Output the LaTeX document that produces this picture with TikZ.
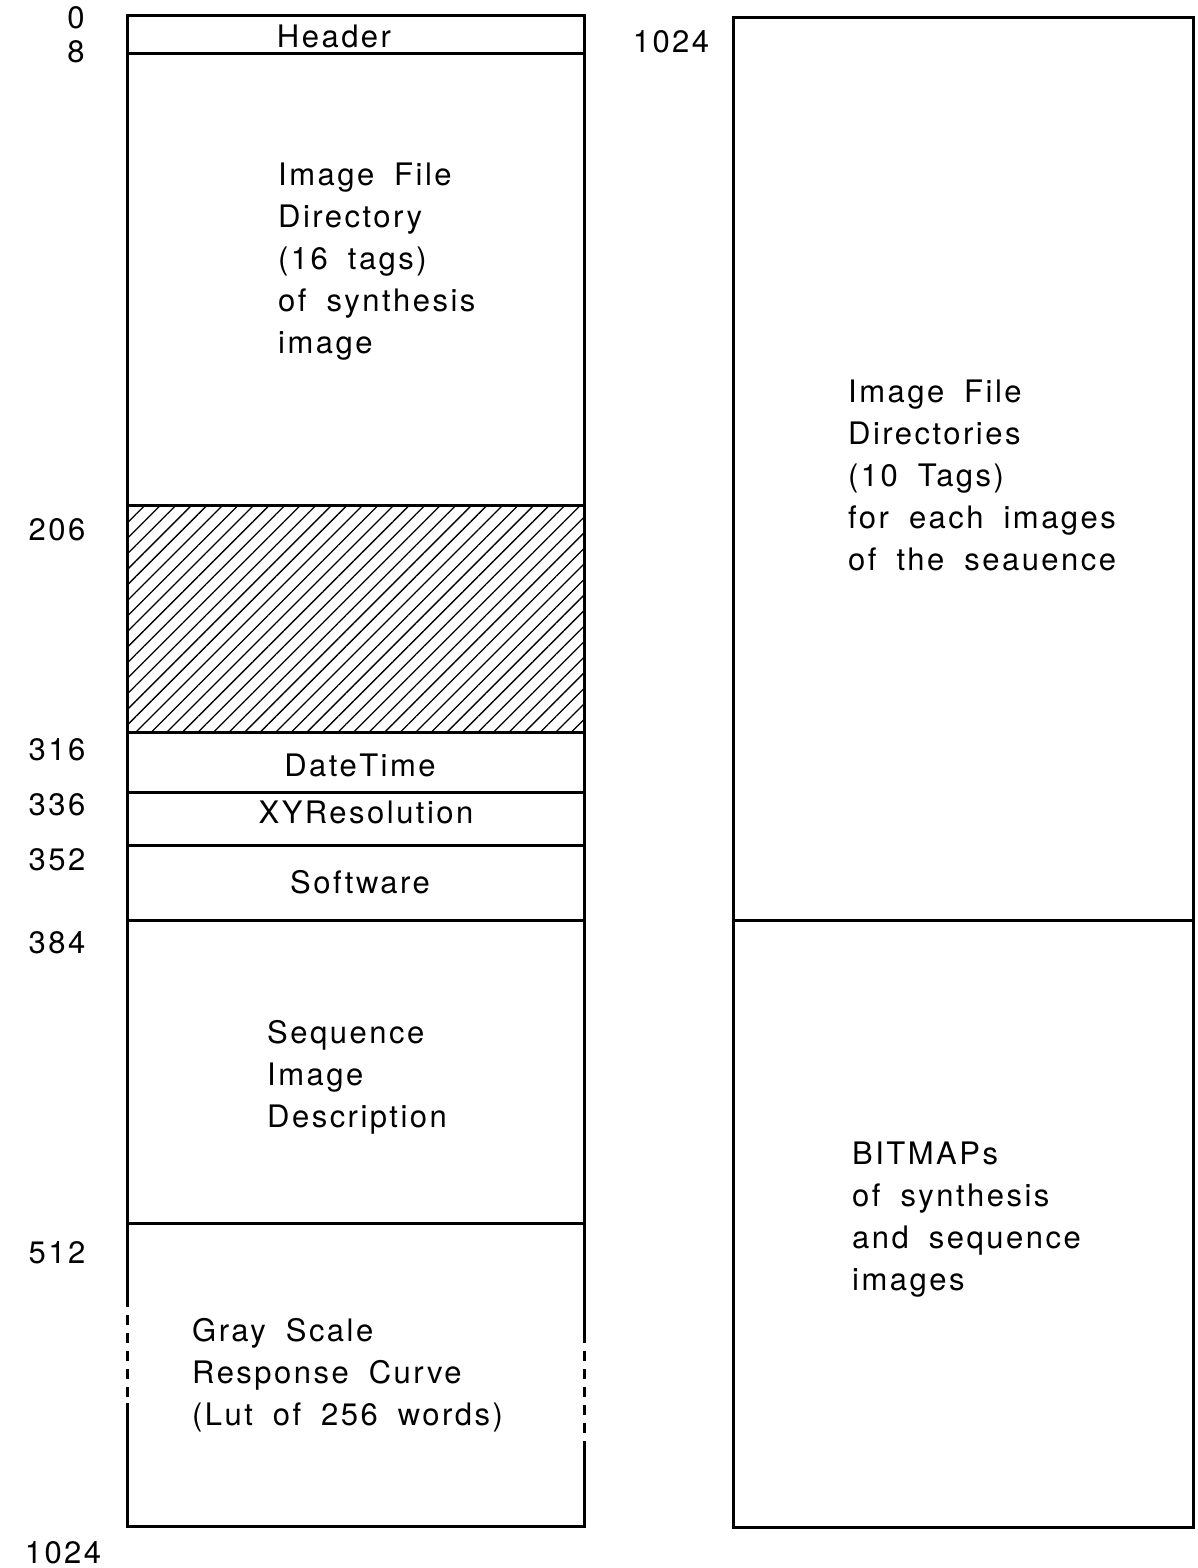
\documentclass[tikz,border=0pt]{standalone}
\usepackage{fontspec}
\setmainfont{TeX Gyre Heros}[LetterSpace=8,WordSpace=1.8]
\usetikzlibrary{positioning, patterns.meta}

\begin{document}
\begin{tikzpicture}[
    x=1pt, y=-1pt,
    field/.style={
        rectangle, draw, line width=3pt,
        anchor=north west, outer sep=0pt, inner sep=0pt,
        minimum width=457pt
    },
    bigfield/.style={field, minimum width=460pt},
    hatched/.style={pattern={Lines[angle=45, distance=11pt, line width=1.3pt]}},
    edge/.style={line width=3pt},
    txt/.style={font=\fontsize{31}{42}\selectfont, align=left, inner sep=0pt},
    addr/.style={font=\fontsize{31}{42}\selectfont, inner sep=0pt}
]
\useasboundingbox (0,0) rectangle (1197,1568);

% Left column
\node[field, minimum height=38pt] (hdr) at (127,16) {};
\node[field, minimum height=451pt] (ifd) at (hdr.south west) {};
\node[field, hatched, minimum height=227pt] (free) at (ifd.south west) {};
\node[field, minimum height=60pt] (date) at (free.south west) {};
\node[field, minimum height=53pt] (res) at (date.south west) {};
\node[field, minimum height=75pt] (soft) at (res.south west) {};
\node[field, minimum height=303pt] (seq) at (soft.south west) {};
\node[field, draw=none, minimum height=303pt] (gsc) at (seq.south west) {};

% Gray scale box, partly dashed sides
\draw[edge] (127,1297) -- (gsc.north west) -- (gsc.north east) -- (584,1333);
\draw[edge] (127,1403) -- (gsc.south west) -- (gsc.south east) -- (584,1447);
\draw[edge, dash pattern=on 10pt off 8pt] (127,1297) -- (127,1403);
\draw[edge, dash pattern=on 10pt off 8pt] (584,1333) -- (584,1447);

% Right column
\node[bigfield, minimum height=902pt] (dirs) at (733,18) {};
\node[bigfield, minimum height=607pt] (bmp) at (dirs.south west) {};

% Texts
\node[addr] (thdr) at (334,36) {Header};
\node[txt, anchor=north west] (tifd) at (278,163) {Image File\\Directory\\(16 tags)\\of synthesis\\image};
\node[addr] (tdate) at (360,765) {DateTime};
\node[addr] (tres) at (366,812) {XYResolution};
\node[addr] (tsoft) at (360,882) {Software};
\node[txt, anchor=north west] (tseq) at (267,1020) {Sequence\\Image\\Description};
\node[txt, anchor=north west] (tgsc) at (192,1318) {Gray Scale\\Response Curve\\(Lut of 256 words)};
\node[txt, anchor=north west] (tdirs) at (848,380) {Image File\\Directories\\(10 Tags)\\for each images\\of the seauence};
\node[txt, anchor=north west] (tbmp) at (852,1142) {BITMAPs\\of synthesis\\and sequence\\images};

% Offsets
\node[addr] (a0) at (76,18) {0};
\node[addr] (a8) at (76,52) {8};
\node[addr] (a206) at (57,530) {206};
\node[addr] (a316) at (57,750) {316};
\node[addr] (a336) at (57,805) {336};
\node[addr] (a352) at (57,860) {352};
\node[addr] (a384) at (57,943) {384};
\node[addr] (a512) at (57,1253) {512};
\node[addr] (aend) at (63,1553) {1024};
\node[addr] (astart) at (671,42) {1024};

\end{tikzpicture}
\end{document}
